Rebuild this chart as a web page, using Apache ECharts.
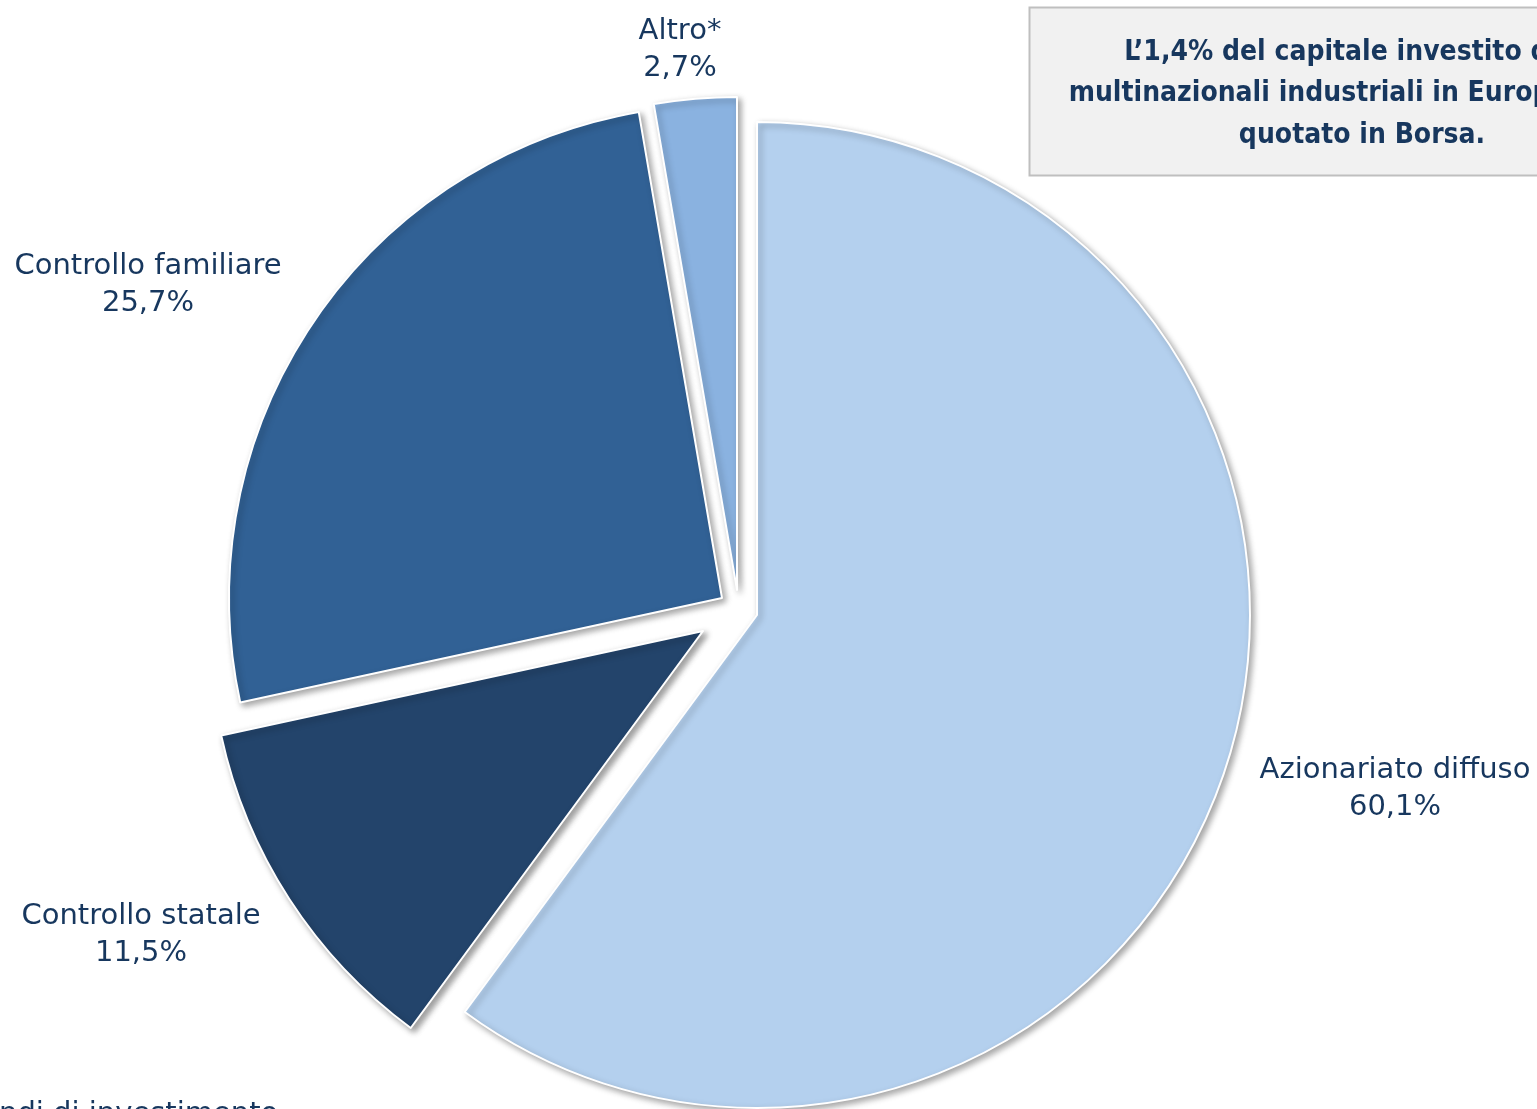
<!DOCTYPE html>
<html>
<head>
<meta charset="utf-8">
<script src="https://cdn.jsdelivr.net/npm/echarts@6/dist/echarts.min.js"></script>
<style>
html,body{margin:0;padding:0;background:#fff;}
#chart{width:1537px;height:1109px;}
</style>
</head>
<body>
<div id="chart"></div>
<script>
// ---- data ----
const categories = ['Azionariato diffuso', 'Fondi di investimento', 'Controllo statale', 'Controllo familiare', 'Altro*'];
const shares = [60.1, 0.0, 11.5, 25.7, 2.7];
const noteLines = ['L\u20191,4% del capitale investito dalle', 'multinazionali industriali in Europa non è', 'quotato in Borsa.'];

// ---- layout / style ----
const colors = ['#b4d0ee', '#9bbbe0', '#23446b', '#316195', '#8ab2e0'];
const sliceCenters = [[757, 615], [703, 631], [703, 631], [722, 598], [737, 590]];
const labelPos = [[1395, 789], [122, 1133], [141, 935], [148, 285], [680, 50]];
const R = 493;
const FONT = "'DejaVu Sans', sans-serif";
const NOTE_FONT = "'DejaVu Sans Condensed', 'DejaVu Sans', sans-serif";
const textColor = '#17375e';

function fmt(v) { return v.toFixed(1).replace('.', ',') + '%'; }

const series = [];
categories.forEach((cat, k) => {
  series.push({
    type: 'pie',
    center: sliceCenters[k],
    radius: [0, R],
    startAngle: 90,
    clockwise: true,
    silent: true,
    animation: false,
    labelLine: { show: false },
    emphasis: { disabled: true },
    data: categories.map((name, i) => {
      const own = i === k;
      return {
        name: name,
        value: shares[i],
        itemStyle: own ? {
          color: colors[i], borderColor: '#ffffff', borderWidth: 2,
          shadowBlur: 6, shadowColor: 'rgba(0,0,0,0.35)', shadowOffsetX: 3, shadowOffsetY: 3
        } : { color: 'rgba(0,0,0,0)', borderWidth: 0, shadowBlur: 0 },
        label: own ? {
          show: true, position: 'outside', overflow: 'none',
          formatter: p => p.name + '\n' + fmt(p.value),
          fontFamily: FONT, fontSize: 29, lineHeight: 37, color: textColor, align: 'center'
        } : { show: false }
      };
    }),
    labelLayout: function (p) {
      const pos = labelPos[p.dataIndex];
      return { x: pos[0], y: pos[1], align: 'center', verticalAlign: 'middle', hideOverlap: false };
    }
  });
});

const chart = echarts.init(document.getElementById('chart'), null, { renderer: 'canvas' });
chart.setOption({
  backgroundColor: '#ffffff',
  series: series,
  graphic: [{
    type: 'group',
    children: [{
      type: 'rect',
      shape: { x: 1029.5, y: 7.5, width: 700, height: 168 },
      style: { fill: '#f1f1f1', stroke: '#bfbfbf', lineWidth: 2 }
    }, {
      type: 'text',
      style: {
        x: 1362, y: 94, text: noteLines.join('\n'),
        fontFamily: NOTE_FONT, fontWeight: 'bold', fontSize: 28, lineHeight: 41.5,
        fill: '#17375e', align: 'center', verticalAlign: 'middle'
      }
    }]
  }]
});
</script>
</body>
</html>
